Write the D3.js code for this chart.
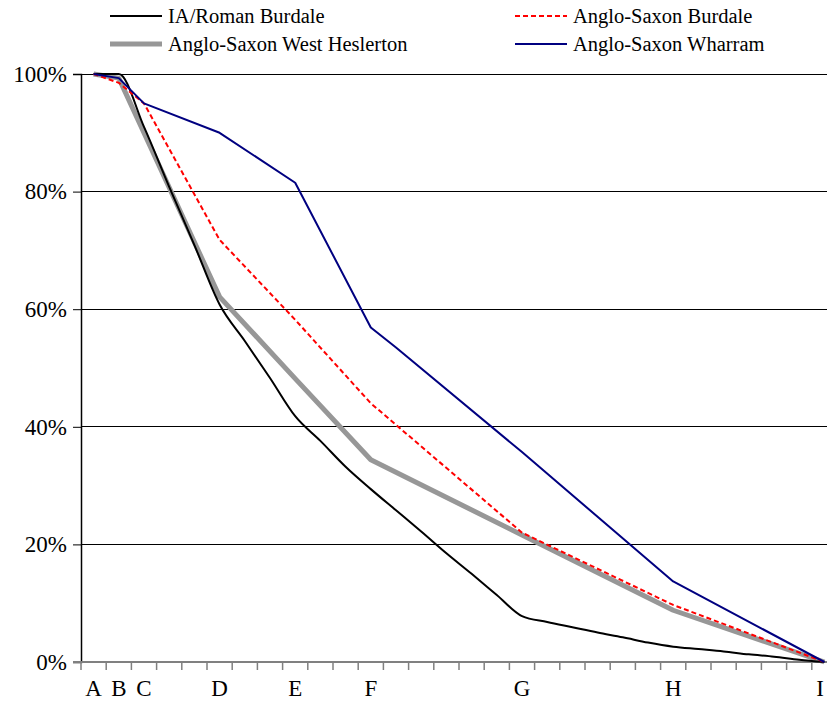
<!DOCTYPE html>
<html>
<head>
<meta charset="utf-8">
<script src="https://cdn.jsdelivr.net/npm/d3@7"></script>
<style>
  body { margin: 0; background: #fff; }
</style>
</head>
<body>
<svg id="chart" width="827" height="701"></svg>
<script>
// 30 categories, only some carry a letter label
const categories = d3.range(30);
const catLabels = { 0: "A", 1: "B", 2: "C", 5: "D", 8: "E", 11: "F", 17: "G", 23: "H", 29: "I" };
const yTicks = [0, 20, 40, 60, 80, 100];

// values in % (null = no point at that category)
const iaRomanBurdale = [100, 100, 91, 80.8, 70.9, 60.8, 54.6, 48.3, 41.8, 37.6, 33.2, 29.4, 25.8, 22.2, 18.5,
  15.0, 11.4, 7.8, 6.8, 5.9, 5.0, 4.2, 3.3, 2.6, 2.2, 1.8, 1.3, 0.9, 0.4, 0];
const asBurdale = [100, 98.5, 95, null, null, 71.8, null, null, 58.2, null, null, 44.0, null, null, null,
  null, null, 22.0, null, null, null, null, null, 9.7, null, null, null, null, null, 0];
const asWestHeslerton = [100, 99.3, null, null, null, 62.1, null, null, 48.2, null, null, 34.4, null, null, null,
  null, null, 21.6, null, null, null, null, null, 8.8, null, null, null, null, null, 0];
const asWharram = [100, 99.3, 95, null, null, 90.0, null, null, 81.5, null, null, 56.9, 53.5, null, null,
  null, null, 35.7, null, null, null, null, null, 13.7, null, null, null, null, null, 0];

const series = [
  { name: "IA/Roman Burdale", values: iaRomanBurdale, color: "#000000", width: 2, dash: null, curve: d3.curveMonotoneX },
  { name: "Anglo-Saxon Burdale", values: asBurdale, color: "#ff0000", width: 2, dash: "5,3", curve: d3.curveLinear },
  { name: "Anglo-Saxon West Heslerton", values: asWestHeslerton, color: "#979797", width: 5, dash: null, curve: d3.curveLinear },
  { name: "Anglo-Saxon Wharram", values: asWharram, color: "#000080", width: 2, dash: null, curve: d3.curveLinear }
];
// draw order: grey underneath
const drawOrder = [2, 0, 1, 3];

const font = "'Liberation Serif', 'DejaVu Serif', serif";
const svg = d3.select("#chart");
const plotLeft = 81, plotTop = 74, plotBottom = 662;
const band = 25.2;

const x = d3.scaleBand().domain(categories).range([plotLeft, plotLeft + band * categories.length]);
const y = d3.scaleLinear().domain([0, 100]).range([plotBottom, plotTop]);

// gridlines
svg.append("g")
  .selectAll("line")
  .data(yTicks.filter(d => d > 0))
  .enter().append("line")
  .attr("x1", plotLeft).attr("x2", 827)
  .attr("y1", d => y(d)).attr("y2", d => y(d))
  .attr("stroke", "#000").attr("stroke-width", 1).attr("shape-rendering", "crispEdges");

// y axis
const yAxis = svg.append("g")
  .attr("transform", `translate(${plotLeft},0)`)
  .call(d3.axisLeft(y).tickValues(yTicks).tickSize(8).tickPadding(6).tickFormat(d => d + "%"));
yAxis.select(".domain").attr("stroke", "#000").attr("stroke-width", 1.5);
yAxis.selectAll(".tick line").attr("stroke", "#000");
yAxis.selectAll(".tick text")
  .style("font-family", font).style("font-size", "23px").attr("fill", "#000");

// x axis: ticks between categories
const xAxis = svg.append("g").attr("transform", `translate(0,${plotBottom})`);
xAxis.append("line")
  .attr("x1", plotLeft - 8).attr("x2", 827).attr("y1", 0).attr("y2", 0)
  .attr("stroke", "#808080").attr("stroke-width", 2);
xAxis.selectAll(".tk")
  .data(categories)
  .enter().append("line").attr("class", "tk")
  .attr("x1", d => x(d)).attr("x2", d => x(d))
  .attr("y1", 0).attr("y2", 8)
  .attr("stroke", "#808080").attr("stroke-width", 1.5);
xAxis.selectAll(".lbl")
  .data(categories.filter(d => catLabels[d]))
  .enter().append("text").attr("class", "lbl")
  .attr("x", d => Math.min(x(d) + x.bandwidth() / 2, 820))
  .attr("y", 34)
  .attr("text-anchor", "middle")
  .style("font-family", font)
  .style("font-size", "23px")
  .text(d => catLabels[d]);

// lines
const g = svg.append("g");
drawOrder.forEach(i => {
  const s = series[i];
  const pts = categories.map(c => ({ c, v: s.values[c] })).filter(d => d.v !== null);
  const line = d3.line()
    .x(d => x(d.c) + x.bandwidth() / 2)
    .y(d => y(d.v))
    .curve(s.curve);
  g.append("path")
    .datum(pts)
    .attr("d", line)
    .attr("fill", "none")
    .attr("stroke", s.color)
    .attr("stroke-width", s.width)
    .attr("stroke-dasharray", s.dash)
    .attr("stroke-linejoin", "round");
});

// legend
const legendPos = [[110, 16], [515, 16], [110, 44], [515, 44]];
const legend = svg.append("g");
series.forEach((s, i) => {
  const [lx, ly] = legendPos[i];
  legend.append("line")
    .attr("x1", lx).attr("x2", lx + 52).attr("y1", ly).attr("y2", ly)
    .attr("stroke", s.color).attr("stroke-width", s.width).attr("stroke-dasharray", s.dash);
  legend.append("text")
    .attr("x", lx + 58).attr("y", ly + 7)
    .style("font-family", font)
    .style("font-size", "20.5px")
    .text(s.name);
});
</script>
</body>
</html>
